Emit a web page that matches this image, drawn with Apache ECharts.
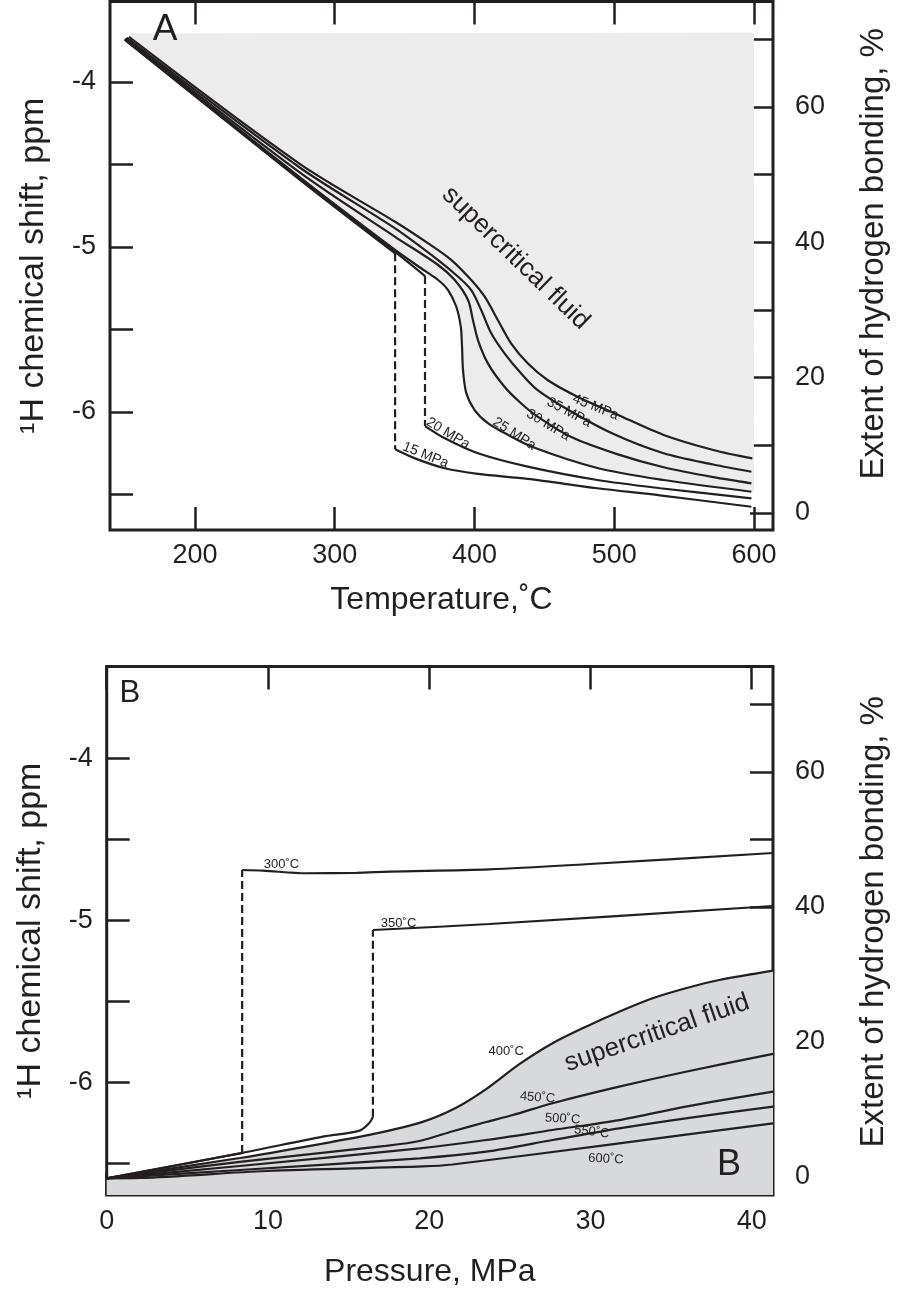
<!DOCTYPE html>
<html><head><meta charset="utf-8">
<script src="https://cdn.jsdelivr.net/npm/echarts@6/dist/echarts.min.js"></script>
<style>html,body{margin:0;padding:0;background:#fff}#c{width:898px;height:1290px}</style>
</head><body><div id="c"></div>
<script>
// ---------- Panel A : shift vs temperature ----------
const tempTicks = [200, 300, 400, 500, 600];
const shiftTicks = [-6.5, -6, -5.5, -5, -4.5, -4];
const shiftLabels = [-6, -5, -4];
const bondTicks = [0, 10, 20, 30, 40, 50, 60, 70];
const bondLabels = [0, 20, 40, 60];

// [temperature °C, shift ppm]
const mpa15Liquid = [[149.8,-3.745],[274.4,-4.588],[343.2,-5.038]];
const mpa15Vapor  = [[343.2,-6.226],[357.4,-6.281],[378.8,-6.341],[402.5,-6.375],[438.1,-6.405],[487.9,-6.462],[532.7,-6.505],[598.2,-6.574]];
const mpa20Liquid = [[149.8,-3.742],[274.4,-4.582],[343.2,-5.030],[364.6,-5.176]];
const mpa20Vapor  = [[364.6,-6.085],[378.8,-6.159],[402.5,-6.250],[438.1,-6.331],[487.9,-6.412],[533.0,-6.462],[598.2,-6.523]];
const mpa25 = [[149.8,-3.739],[274.4,-4.574],[343.2,-5.018],[364.6,-5.145],[374.0,-5.200],[381.1,-5.261],[387.0,-5.362],[390.2,-5.483],[391.1,-5.604],[391.8,-5.745],[394.2,-5.887],[400.1,-5.988],[409.6,-6.068],[421.5,-6.127],[441.6,-6.212],[487.9,-6.339],[535.4,-6.412],[598.2,-6.483]];
const mpa30 = [[150.5,-3.736],[274.4,-4.545],[343.2,-4.938],[374.0,-5.109],[385.9,-5.200],[395.4,-5.321],[398.9,-5.442],[402.5,-5.564],[409.6,-5.705],[421.5,-5.847],[433.3,-5.947],[445.2,-6.028],[468.9,-6.150],[502.1,-6.255],[535.4,-6.335],[570.9,-6.395],[598.2,-6.432]];
const mpa35 = [[151.2,-3.733],[274.4,-4.515],[343.2,-4.887],[374.0,-5.079],[388.3,-5.180],[397.7,-5.261],[404.8,-5.382],[412.0,-5.523],[421.5,-5.644],[433.3,-5.765],[445.2,-5.867],[468.9,-5.995],[500.0,-6.135],[535.4,-6.250],[570.9,-6.318],[598.2,-6.362]];
const mpa45 = [[152.7,-3.727],[274.4,-4.493],[343.2,-4.847],[366.9,-4.978],[383.5,-5.079],[397.7,-5.200],[407.3,-5.301],[416.7,-5.442],[426.2,-5.584],[438.1,-5.705],[452.3,-5.806],[473.7,-5.907],[502.1,-6.015],[535.4,-6.139],[570.9,-6.230],[598.9,-6.281]];
const supercritTopA = [[155.5,-3.706],[600,-3.700]];

const notesA = [
  {text:'45 MPa', x:486.7, y:-5.971, rot:-22, size:14},
  {text:'35 MPa', x:467.7, y:-6.002, rot:-28, size:14},
  {text:'30 MPa', x:452.8, y:-6.079, rot:-31, size:14},
  {text:'25 MPa', x:428.6, y:-6.133, rot:-33, size:14},
  {text:'20 MPa', x:381.1, y:-6.129, rot:-31, size:14},
  {text:'15 MPa', x:365.0, y:-6.261, rot:-22, size:14},
  {text:'supercritical fluid', x:429.5, y:-5.067, rot:-44, size:26},
  {text:'A', x:178.6, y:-3.685, rot:0, size:37}
];

// ---------- Panel B : shift vs pressure ----------
const pressTicks = [0, 10, 20, 30, 40];
const pressLabels = [0, 10, 20, 30, 40];

// [pressure MPa, shift ppm]
const c300Liquid = [[0,-6.590],[8.40,-6.434]];
const c300Vapor  = [[8.40,-4.689],[9.70,-4.693],[12.38,-4.709],[15.48,-4.706],[17.54,-4.699],[23.73,-4.685],[29.93,-4.652],[41.32,-4.584]];
const c350Liquid = [[0,-6.590],[8.25,-6.436],[13.41,-6.333],[15.68,-6.296],[16.30,-6.247],[16.51,-6.210]];
const c350Vapor  = [[16.51,-5.059],[23.73,-5.022],[41.32,-4.911]];
const c400 = [[0,-6.590],[8.25,-6.465],[13.39,-6.376],[16.49,-6.318],[19.59,-6.242],[21.67,-6.155],[23.53,-6.040],[25.59,-5.886],[27.65,-5.757],[29.72,-5.655],[31.78,-5.563],[33.85,-5.480],[35.91,-5.418],[37.98,-5.367],[41.32,-5.309]];
const c450 = [[0,-6.590],[8.25,-6.489],[17.30,-6.390],[19.40,-6.360],[21.46,-6.300],[23.53,-6.243],[25.18,-6.200],[27.65,-6.127],[31.78,-6.025],[35.91,-5.933],[41.32,-5.823]];
const c500 = [[0,-6.590],[8.25,-6.514],[19.40,-6.405],[23.53,-6.354],[27.65,-6.292],[31.78,-6.231],[35.91,-6.148],[41.32,-6.056]];
const c550 = [[0,-6.590],[8.25,-6.539],[19.40,-6.467],[23.53,-6.426],[27.65,-6.354],[31.78,-6.282],[35.91,-6.220],[41.32,-6.148]];
const c600 = [[0,-6.590],[2.06,-6.588],[9.91,-6.545],[19.59,-6.517],[21.44,-6.505],[30.96,-6.385],[41.32,-6.251]];

const notesB = [
  {text:'300˚C', x:10.84, y:-4.652, rot:0, size:13},
  {text:'350˚C', x:18.10, y:-5.016, rot:0, size:13},
  {text:'400˚C', x:24.77, y:-5.807, rot:0, size:13},
  {text:'450˚C', x:26.72, y:-6.092, rot:-4, size:13},
  {text:'500˚C', x:28.27, y:-6.224, rot:-3, size:13},
  {text:'550˚C', x:30.08, y:-6.304, rot:-7, size:13},
  {text:'600˚C', x:30.96, y:-6.471, rot:-3, size:13},
  {text:'supercritical fluid', x:34.13, y:-5.694, rot:19, size:26},
  {text:'B', x:1.44, y:-3.600, rot:0, size:31},
  {text:'B', x:38.59, y:-6.508, rot:0, size:36}
];

// ---------- styling ----------
const FONT = "'Liberation Sans', Arial, Helvetica, sans-serif";
const INK = '#231f20';

function line(data, xi, yi, dashed) {
  return {
    type: 'line', xAxisIndex: xi, yAxisIndex: yi, data: data,
    showSymbol: false, smooth: dashed ? false : 0.3, silent: true, z: 3,
    lineStyle: {color: INK, width: 2.2, type: dashed ? [8, 4] : 'solid'}
  };
}
function dashedLink(a, b, xi, yi) {
  return line([a[a.length - 1], b[0]], xi, yi, true);
}
function notes(list, xi, yi) {
  return {
    type: 'scatter', xAxisIndex: xi, yAxisIndex: yi, symbolSize: 1, silent: true, z: 6,
    itemStyle: {color: 'rgba(0,0,0,0)', opacity: 1},
    data: list.map(n => ({
      value: [n.x, n.y],
      label: {show: true, position: 'inside', formatter: n.text, rotate: n.rot, opacity: 1,
              fontSize: n.size, color: INK, fontFamily: FONT, align: 'center', verticalAlign: 'middle'}
    }))
  };
}
function valueAxis(o) {
  const nts = Object.assign({fontSize: 32, color: INK, fontFamily: FONT}, o.nameTextStyle || {});
  return Object.assign({
    type: 'value', scale: true,
    splitLine: {show: false},
    nameLocation: 'middle'
  }, o, {
    axisLine: {show: false, onZero: false},
    axisTick: Object.assign({show: true, inside: true, length: 23, lineStyle: {color: INK, width: 2.5}}, o.axisTick || {}),
    axisLabel: Object.assign({show: true, fontSize: 27, color: INK, fontFamily: FONT}, o.axisLabel || {}),
    nameTextStyle: nts
  });
}

// polygon of the supercritical region in panel A: top edge + 25 MPa isobar
const polyA = supercritTopA.concat([[600, mpa25[mpa25.length - 1][1]]]).concat(mpa25.slice().reverse());

const option = {
  animation: false,
  backgroundColor: '#ffffff',
  grid: [
    {left: 110, top: 1.5, width: 666.7, height: 528.5, show: true, borderColor: INK, borderWidth: 3, backgroundColor: 'transparent'},
    {left: 106.7, top: 666.5, width: 667.3, height: 528.5, show: true, borderColor: INK, borderWidth: 3, backgroundColor: 'transparent'}
  ],
  xAxis: [
    valueAxis({gridIndex: 0, min: 139.15, max: 613.67, position: 'bottom',
      axisTick: {customValues: tempTicks}, axisLabel: {customValues: tempTicks, margin: 12},
      name: 'Temperature,˚C', nameGap: 54}),
    valueAxis({gridIndex: 0, min: 139.15, max: 613.67, position: 'top',
      axisTick: {customValues: tempTicks}, axisLabel: {show: false}}),
    valueAxis({gridIndex: 1, min: 0, max: 41.32, position: 'bottom',
      axisTick: {customValues: pressTicks}, axisLabel: {customValues: pressLabels, margin: 13},
      name: 'Pressure, MPa', nameGap: 61, nameTextStyle: {padding: [0, 20, 0, 0]}}),
    valueAxis({gridIndex: 1, min: 0, max: 41.32, position: 'top',
      axisTick: {customValues: pressTicks}, axisLabel: {show: false}})
  ],
  yAxis: [
    valueAxis({gridIndex: 0, min: -6.715, max: -3.512, position: 'left',
      axisTick: {customValues: shiftTicks}, axisLabel: {customValues: shiftLabels, margin: 14},
      name: '¹H chemical shift, ppm', nameRotate: 90, nameGap: 59, nameTextStyle: {fontSize: 34}}),
    valueAxis({gridIndex: 0, min: -2.51, max: 75.59, position: 'right',
      axisTick: {customValues: bondTicks}, axisLabel: {customValues: bondLabels, margin: 22},
      name: 'Extent of hydrogen bonding, %', nameRotate: 90, nameGap: 84,
      nameTextStyle: {fontSize: 33, padding: [0, 0, 0, 24]}}),
    valueAxis({gridIndex: 1, min: -6.693, max: -3.434, position: 'left',
      axisTick: {customValues: shiftTicks}, axisLabel: {customValues: shiftLabels, margin: 14},
      name: '¹H chemical shift, ppm', nameRotate: 90, nameGap: 59, nameTextStyle: {fontSize: 34}}),
    valueAxis({gridIndex: 1, min: -2.67, max: 75.63, position: 'right',
      axisTick: {customValues: bondTicks}, axisLabel: {customValues: bondLabels, margin: 22},
      name: 'Extent of hydrogen bonding, %', nameRotate: 90, nameGap: 84,
      nameTextStyle: {fontSize: 33, padding: [0, 0, 0, 18]}})
  ],
  series: [
    // panel A
    {
      type: 'custom', xAxisIndex: 0, yAxisIndex: 0, data: [0], silent: true, z: 1,
      renderItem: function (params, api) {
        return {type: 'polygon', shape: {points: polyA.map(p => api.coord(p))},
                style: {fill: '#ebeceb', stroke: null}};
      }
    },
    line(mpa15Liquid, 0, 0), dashedLink(mpa15Liquid, mpa15Vapor, 0, 0), line(mpa15Vapor, 0, 0),
    line(mpa20Liquid, 0, 0), dashedLink(mpa20Liquid, mpa20Vapor, 0, 0), line(mpa20Vapor, 0, 0),
    line(mpa25, 0, 0), line(mpa30, 0, 0), line(mpa35, 0, 0), line(mpa45, 0, 0),
    notes(notesA, 0, 0),
    // panel B
    Object.assign(line(c400, 2, 2), {areaStyle: {color: '#d8d9da', opacity: 1, origin: 'start'}, z: 2}),
    line(c300Liquid, 2, 2), dashedLink(c300Liquid, c300Vapor, 2, 2), line(c300Vapor, 2, 2),
    line(c350Liquid, 2, 2), dashedLink(c350Liquid, c350Vapor, 2, 2), line(c350Vapor, 2, 2),
    line(c450, 2, 2), line(c500, 2, 2), line(c550, 2, 2), line(c600, 2, 2),
    notes(notesB, 2, 2)
  ]
};
const chart = echarts.init(document.getElementById('c'), null, {renderer: 'canvas'});
chart.setOption(option);
</script></body></html>
